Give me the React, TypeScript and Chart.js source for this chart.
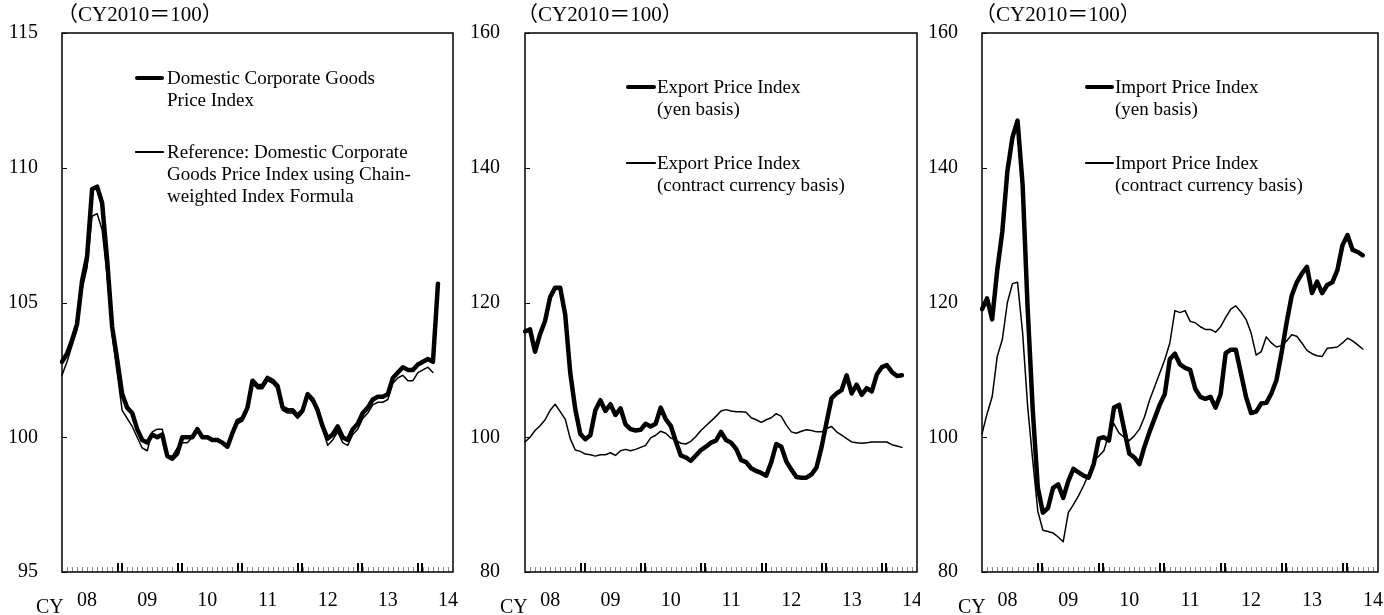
import React, { useEffect, useRef } from "react";
import { Chart, registerables } from "chart.js";

Chart.register(...registerables);

const FONT = "'Liberation Serif', 'Times New Roman', Times, serif";

// Monthly categories: Jan 2008 .. Jul 2014
const monthLabels: string[] = [];
for (let y = 2008; y <= 2014; y++) {
  for (let m = 1; m <= 12; m++) {
    if (y === 2014 && m > 7) break;
    monthLabels.push(`${y}/${m}`);
  }
}
const yearTickLabels = ["08", "09", "10", "11", "12", "13", "14"];

// Panel 1: Domestic CGPI
const dcgpi = [
  102.8, 103.1, 103.6, 104.2, 105.8, 106.7, 109.2, 109.3, 108.7, 106.6, 104.1, 102.9,
  101.6, 101.1, 100.9, 100.3, 99.9, 99.8, 100.1, 100.0, 100.1, 99.3, 99.2, 99.4,
  100.0, 100.0, 100.0, 100.3, 100.0, 100.0, 99.9, 99.9, 99.8, 99.65, 100.15, 100.6,
  100.7, 101.1, 102.1, 101.9, 101.9, 102.2, 102.1, 101.9, 101.1, 101.0, 101.0, 100.8,
  101.0, 101.6, 101.4, 101.0, 100.4, 99.95, 100.1, 100.4, 100.0, 99.9, 100.3, 100.5,
  100.9, 101.1, 101.4, 101.5, 101.5, 101.6, 102.2, 102.4, 102.6, 102.5, 102.5, 102.7,
  102.8, 102.9, 102.8, 105.7,
];
const dcgpiChain = [
  102.3, 102.8, 103.4, 104.0, 105.5, 106.3, 108.2, 108.3, 107.7, 106.0, 103.8, 102.4,
  101.0, 100.7, 100.4, 100.0, 99.6, 99.5, 100.2, 100.3, 100.3, 99.3, 99.3, 99.6,
  99.8, 99.8, 100.0, 100.3, 100.0, 100.0, 99.9, 99.9, 99.8, 99.6, 100.1, 100.5,
  100.6, 101.0, 102.0, 101.8, 101.8, 102.1, 102.0, 101.8, 101.0, 100.9, 100.9, 100.7,
  100.9, 101.5, 101.3, 100.9, 100.3, 99.7, 99.9, 100.2, 99.8, 99.7, 100.1, 100.3,
  100.7, 100.9, 101.2, 101.3, 101.3, 101.4, 102.0, 102.2, 102.3, 102.1, 102.1, 102.4,
  102.5, 102.6, 102.4,
];

// Panel 2: Export Price Index
const exportYen = [
  115.7, 116.0, 112.7, 115.3, 117.3, 120.8, 122.2, 122.2, 118.2, 109.6, 104.2, 100.5,
  99.7, 100.3, 104.0, 105.5, 103.9, 104.9, 103.3, 104.3, 101.9, 101.2, 101.0, 101.1,
  102.0, 101.6, 102.0, 104.4, 102.7, 101.7, 99.4, 97.3, 97.0, 96.5, 97.3, 98.1,
  98.6, 99.2, 99.5, 100.8, 99.6, 99.2, 98.3, 96.6, 96.3, 95.4, 95.0, 94.7,
  94.3, 96.3, 99.0, 98.6, 96.4, 95.2, 94.1, 94.0, 94.0, 94.5, 95.5, 98.5,
  102.2, 105.8, 106.5, 107.0, 109.2, 106.5, 107.8, 106.3, 107.3, 106.8, 109.3, 110.4,
  110.7, 109.7, 109.1, 109.2,
];
const exportContract = [
  99.3, 100.0, 101.0, 101.7, 102.6, 104.0, 104.9, 103.8, 102.7, 99.8, 98.1, 97.9,
  97.5, 97.4, 97.2, 97.4, 97.4, 97.7, 97.3, 98.0, 98.2, 98.0, 98.2, 98.5,
  98.8, 99.9, 100.3, 100.9, 100.6, 99.9, 99.6, 99.1, 99.0, 99.4, 100.1, 101.0,
  101.7, 102.4, 103.1, 103.9, 104.1, 103.9, 103.8, 103.8, 103.7, 102.9, 102.6, 102.2,
  102.6, 102.9, 103.5, 103.1, 101.8, 100.8, 100.6, 100.9, 101.1, 101.0, 100.8, 100.8,
  101.3, 101.6, 100.8, 100.3, 99.8, 99.3, 99.2, 99.1, 99.2, 99.3, 99.3, 99.3,
  99.3, 98.9, 98.7, 98.5,
];

// Panel 3: Import Price Index
const importYen = [
  119.0, 120.6, 117.5, 124.8, 130.5, 139.5, 144.5, 147.0, 137.5, 119.0, 104.0, 92.5,
  88.8, 89.5, 92.5, 93.0, 91.0, 93.5, 95.3, 94.8, 94.3, 94.0, 96.0, 99.8,
  100.0, 99.5, 104.4, 104.8, 101.2, 97.6, 97.0, 96.0, 98.6, 100.8, 102.8, 104.8,
  106.4, 111.6, 112.4, 110.8, 110.3, 110.0, 107.2, 106.0, 105.7, 106.0, 104.4, 106.4,
  112.5, 113.0, 113.0, 109.5, 106.0, 103.6, 103.8, 105.0, 105.1, 106.5, 108.5, 112.5,
  117.0, 121.0, 123.0, 124.3, 125.3, 121.4, 123.1, 121.4, 122.6, 123.0, 124.8, 128.5,
  130.0, 127.8, 127.5, 127.0,
];
const importContract = [
  100.5, 103.5, 106.0, 112.0, 114.5, 120.0, 122.8, 123.0, 115.5, 104.5, 96.5, 89.0,
  86.2, 86.0, 85.8, 85.2, 84.5, 88.8, 90.0, 91.3, 92.8, 94.5, 96.5, 97.2,
  98.0, 100.5, 102.0, 100.6, 100.0, 99.5, 100.2, 101.2, 103.0, 105.5, 107.5, 109.5,
  111.5, 114.0, 118.8, 118.5, 118.8, 117.2, 117.0, 116.4, 116.0, 116.0, 115.6, 116.4,
  117.8, 119.0, 119.5, 118.6, 117.5, 115.5, 112.2, 112.7, 114.9, 114.0, 113.4, 113.6,
  114.3, 115.2, 115.0, 114.0, 112.9, 112.4, 112.1, 112.0, 113.2, 113.3, 113.4, 114.0,
  114.7, 114.3, 113.7, 113.1,
];

const yearBoundaries = [11.5, 23.5, 35.5, 47.5, 59.5, 71.5];

const framePlugin = {
  id: "frame",
  afterDatasetsDraw(chart: any) {
    const { ctx, chartArea: a, scales } = chart;
    const xs = scales.x;
    const ys = scales.y;
    ctx.save();
    ctx.strokeStyle = "#000";
    ctx.lineWidth = 1;
    ctx.beginPath();
    ys.ticks.forEach((t: any) => {
      const py = Math.round(ys.getPixelForValue(t.value)) + 0.5;
      ctx.moveTo(a.left, py);
      ctx.lineTo(a.left + 5, py);
    });
    ctx.stroke();
    ctx.strokeStyle = "#8a8a8a";
    ctx.beginPath();
    for (let i = 1; i < monthLabels.length - 1; i++) {
      const px = Math.round(xs.getPixelForValue(i)) + 0.5;
      ctx.moveTo(px, a.bottom);
      ctx.lineTo(px, a.bottom - 5);
    }
    ctx.stroke();
    ctx.fillStyle = "#000";
    yearBoundaries.forEach((b) => {
      const px = Math.round(xs.getPixelForValue(b));
      ctx.fillRect(px - 3, a.bottom - 9, 2, 9);
      ctx.fillRect(px + 1, a.bottom - 9, 2, 9);
    });
    ctx.strokeStyle = "#000";
    ctx.lineWidth = 1.5;
    ctx.strokeRect(a.left, a.top, a.right - a.left, a.bottom - a.top);
    ctx.restore();
  },
};

type SeriesDef = { data: number[]; width: number };
type LegendEntry = { y: number; width: number; lines: string[] };
type PanelDef = {
  left: number;
  width: number;
  yAxisWidth: number;
  rightPad: number;
  labelPad: number;
  yMin: number;
  yMax: number;
  yStep: number;
  series: SeriesDef[];
};

const panels: PanelDef[] = [
  { left: 0, width: 460, yAxisWidth: 62, rightPad: 7, labelPad: 24, yMin: 95, yMax: 115, yStep: 5,
    series: [{ data: dcgpi, width: 4.5 }, { data: dcgpiChain, width: 1.5 }] },
  { left: 460, width: 460, yAxisWidth: 65, rightPad: 3, labelPad: 25, yMin: 80, yMax: 160, yStep: 20,
    series: [{ data: exportYen, width: 4.5 }, { data: exportContract, width: 1.5 }] },
  { left: 920, width: 464, yAxisWidth: 62, rightPad: 6, labelPad: 24, yMin: 80, yMax: 160, yStep: 20,
    series: [{ data: importYen, width: 4.5 }, { data: importContract, width: 1.5 }] },
];

const legends: { sx1: number; sx2: number; tx: number; entries: LegendEntry[] }[] = [
  { sx1: 135, sx2: 164, tx: 167, entries: [
    { y: 78, width: 4.5, lines: ["Domestic Corporate Goods", "Price Index"] },
    { y: 152, width: 1.5, lines: ["Reference: Domestic Corporate", "Goods Price Index using Chain-", "weighted Index Formula"] },
  ] },
  { sx1: 626, sx2: 656, tx: 657, entries: [
    { y: 87, width: 4.5, lines: ["Export Price Index", "(yen basis)"] },
    { y: 163, width: 1.5, lines: ["Export Price Index", "(contract currency basis)"] },
  ] },
  { sx1: 1085, sx2: 1114, tx: 1115, entries: [
    { y: 87, width: 4.5, lines: ["Import Price Index", "(yen basis)"] },
    { y: 163, width: 1.5, lines: ["Import Price Index", "(contract currency basis)"] },
  ] },
];

const notes = [
  { left: 57, text: "（CY2010＝100）" },
  { left: 517, text: "（CY2010＝100）" },
  { left: 975, text: "（CY2010＝100）" },
];
const cyLabels = [36, 500, 958];

function Panel({ def }: { def: PanelDef }) {
  const ref = useRef<HTMLCanvasElement>(null);
  useEffect(() => {
    const canvas = ref.current;
    if (!canvas) return;
    const chart = new Chart(canvas, {
      type: "line",
      data: {
        labels: monthLabels,
        datasets: def.series.map((s) => ({
          data: s.data,
          borderColor: "#000",
          backgroundColor: "#000",
          borderWidth: s.width,
          pointRadius: 0,
          pointHoverRadius: 0,
          fill: false,
          tension: 0,
          borderJoinStyle: "round" as const,
          borderCapStyle: "round" as const,
        })),
      },
      options: {
        responsive: false,
        maintainAspectRatio: false,
        animation: false,
        events: [],
        layout: { padding: { top: 33, right: def.rightPad, left: 0, bottom: 0 } },
        plugins: {
          legend: { display: false },
          tooltip: { enabled: false },
          title: { display: false },
        },
        scales: {
          x: {
            type: "category",
            offset: false,
            grid: { display: false, drawTicks: false },
            border: { display: false },
            ticks: {
              autoSkip: false,
              maxRotation: 0,
              minRotation: 0,
              padding: 17,
              color: "#000",
              font: { family: FONT, size: 20 },
              callback: (_v: any, i: number) => (i % 12 === 5 ? yearTickLabels[Math.floor(i / 12)] : ""),
            },
            afterFit: (s: any) => {
              s.height = 43;
              s.paddingLeft = 0;
              s.paddingRight = 0;
            },
          },
          y: {
            type: "linear",
            min: def.yMin,
            max: def.yMax,
            grid: { display: false, drawTicks: false },
            border: { display: false },
            ticks: {
              stepSize: def.yStep,
              padding: def.labelPad,
              color: "#000",
              font: { family: FONT, size: 20 },
            },
            afterFit: (s: any) => {
              s.width = def.yAxisWidth;
              s.paddingTop = 0;
              s.paddingBottom = 0;
            },
          },
        },
      },
      plugins: [framePlugin],
    });
    return () => chart.destroy();
  }, [def]);
  return (
    <canvas
      ref={ref}
      width={def.width}
      height={615}
      style={{ position: "absolute", left: def.left, top: 0, width: def.width, height: 615 }}
    />
  );
}

const textStyle: React.CSSProperties = {
  position: "absolute",
  fontFamily: FONT,
  color: "#000",
  whiteSpace: "nowrap",
};

export default function App() {
  return (
    <div style={{ position: "absolute", left: 0, top: 0, width: 1384, height: 615, background: "#fff", overflow: "hidden" }}>
      {panels.map((p, i) => (
        <Panel key={i} def={p} />
      ))}
      {notes.map((n, i) => (
        <div key={"n" + i} style={{ ...textStyle, left: n.left, top: 3, fontSize: 21, lineHeight: "22px", fontFamily: FONT + ", 'Noto Sans CJK JP'" }}>
          {n.text}
        </div>
      ))}
      {cyLabels.map((x, i) => (
        <div key={"c" + i} style={{ ...textStyle, left: x, top: 595, fontSize: 20, lineHeight: "22px" }}>
          CY
        </div>
      ))}
      {legends.map((lg, i) => (
        <React.Fragment key={"l" + i}>
          {lg.entries.map((e, j) => (
            <React.Fragment key={j}>
              <div
                style={{
                  position: "absolute",
                  left: lg.sx1,
                  top: e.y - e.width / 2,
                  width: lg.sx2 - lg.sx1,
                  height: e.width,
                  background: "#000",
                  borderRadius: e.width / 2,
                }}
              />
              <div style={{ ...textStyle, left: lg.tx, top: e.y - 11, fontSize: 19, lineHeight: "22px" }}>
                {e.lines.map((l, k) => (
                  <div key={k}>{l}</div>
                ))}
              </div>
            </React.Fragment>
          ))}
        </React.Fragment>
      ))}
    </div>
  );
}
